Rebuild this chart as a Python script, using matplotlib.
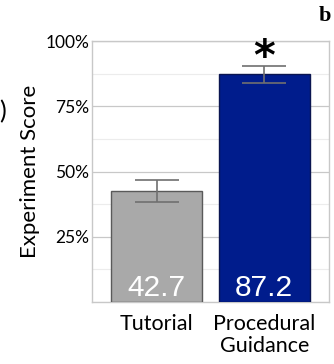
import matplotlib
matplotlib.use("Agg")
import matplotlib.pyplot as plt
from matplotlib.ticker import MultipleLocator, FixedLocator

# Data
conditions = ["Tutorial", "Procedural\nGuidance"]
scores = [42.7, 87.2]
errors = [4.2, 3.2]
bar_colors = ["#a9a9a9", "#001c8c"]
edge_colors = ["#5a5a5a", "#0a1550"]
ytick_vals = [25, 50, 75, 100]
ytick_labels = ["25%", "50%", "75%", "100%"]

plt.rcParams["font.family"] = ["Lato", "DejaVu Sans"]

fig = plt.figure(figsize=(3.34, 3.64), dpi=100)
ax = fig.add_axes([92 / 334, 1 - 302 / 364, 237 / 334, 261 / 364])

x = list(range(len(conditions)))
ax.bar(x, scores, width=0.85, color=bar_colors, edgecolor=edge_colors,
       linewidth=1.0, zorder=3)
ax.errorbar(x, scores, yerr=errors, fmt="none", ecolor="#707070",
            elinewidth=1.2, capsize=16, capthick=1.2, zorder=4)

# Bar value labels
for xi, v in zip(x, scores):
    ax.text(xi, 0.0, f"{v:.1f}", ha="center", va="bottom", color="white",
            fontsize=21.5, family=["Liberation Sans"], zorder=5)

# Significance marker
ax.text(x[1], 93.3, "*", ha="center", va="center",
        fontsize=30, fontweight="bold", family=["DejaVu Sans"], zorder=5)

ax.set_xlim(-0.602, 1.602)
ax.set_ylim(0, 100)
ax.set_xticks(x)
ax.set_xticklabels(conditions, fontsize=15.5, linespacing=1.1)
ax.yaxis.set_major_locator(FixedLocator(ytick_vals))
ax.set_yticklabels(ytick_labels, fontsize=12.5)
ax.yaxis.set_minor_locator(MultipleLocator(12.5))
ax.tick_params(axis="both", which="both", length=0, pad=2)
ax.tick_params(axis="x", pad=9)
ax.grid(axis="y", which="major", color="#c8c8c8", linewidth=0.9, zorder=0)
ax.grid(axis="y", which="minor", color="#ececec", linewidth=0.8, zorder=0)
ax.set_axisbelow(True)
for s in ax.spines.values():
    s.set_color("#c8c8c8")
    s.set_linewidth(1.0)

ax.set_ylabel("Experiment Score", fontsize=16, labelpad=4)

fig.text(325 / 334, 1 - 16 / 364, "b", ha="center", va="center",
         fontsize=16, fontweight="bold", family=["Liberation Serif"])
fig.text(3 / 334, 1 - 112 / 364, ")", ha="center", va="center", fontsize=18)

fig.savefig("out.png", dpi=100)
